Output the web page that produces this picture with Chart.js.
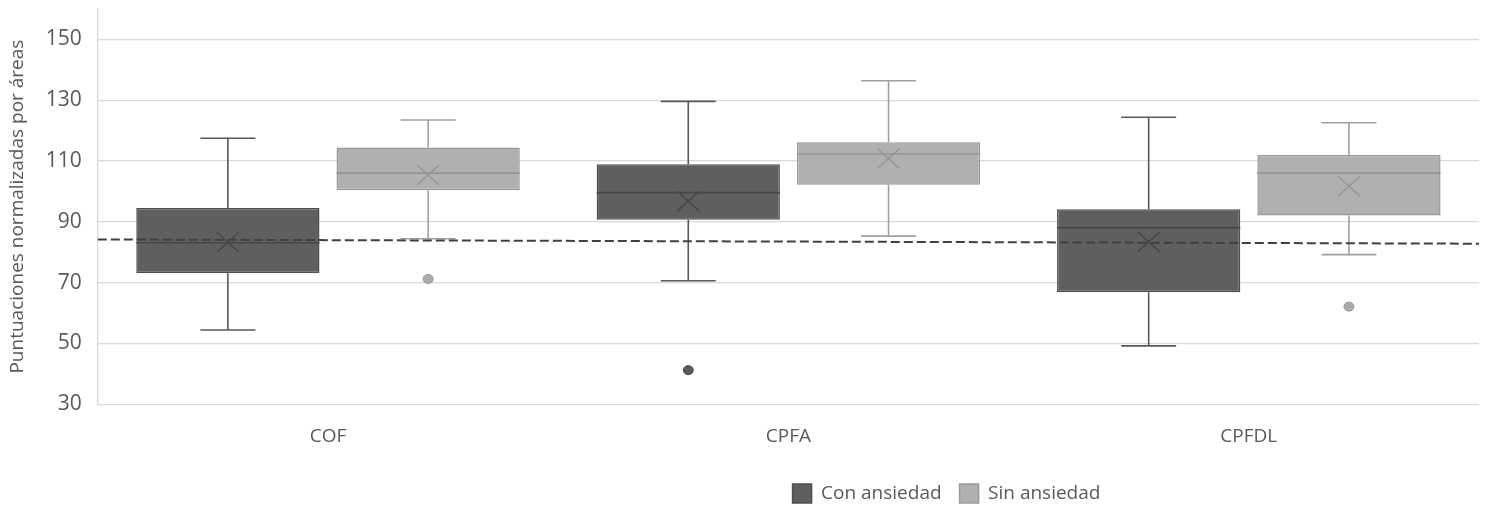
<!DOCTYPE html>
<html>
<head>
<meta charset="utf-8">
<script src="https://cdn.jsdelivr.net/npm/chart.js@4.4.1/dist/chart.umd.min.js"></script>
<style>
  html, body { margin: 0; padding: 0; background: #fff; }
  #wrap { width: 1486px; height: 506px; }
</style>
</head>
<body>
<div id="wrap"><canvas id="boxChart"></canvas></div>
<script>
// Categories and the two groups
const categories = ['COF', 'CPFA', 'CPFDL'];
const seriesNames = ['Con ansiedad', 'Sin ansiedad'];

// Con ansiedad
const conMin = [54.4, 70.6, 49.2];
const conQ1 = [73.1, 90.7, 66.8];
const conMedian = [83.1, 99.6, 88.1];
const conMean = [83.3, 96.8, 83.4];
const conQ3 = [94.5, 108.9, 94.1];
const conMax = [117.5, 129.6, 124.4];
const conOutliers = [[], [41.2], []];

// Sin ansiedad
const sinMin = [84.4, 85.3, 79.2];
const sinQ1 = [100.4, 102.2, 92.1];
const sinMedian = [106, 112.3, 106];
const sinMean = [105.4, 110.8, 101.7];
const sinQ3 = [114.4, 116.2, 112];
const sinMax = [123.5, 136.4, 122.6];
const sinOutliers = [[71.2], [], [62.1]];

// dashed reference line: value at the left and right end of the plot
const refLine = [84.2, 82.8];

const yTicks = [30, 50, 70, 90, 110, 130, 150];

const textColor = '#595959';
const gridColor = '#d9d9d9';

function boxStats(min, q1, med, mean, q3, max, out) {
    return { min: min, q1: q1, median: med, mean: mean, q3: q3, max: max, outliers: out };
}

// whiskers, medians, means, outliers and the dashed line
const boxDetails = {
    id: 'boxDetails',
    afterDatasetsDraw(chart) {
        const ctx = chart.ctx;
        const y = chart.scales.y;
        chart.data.datasets.forEach((ds, i) => {
            const meta = chart.getDatasetMeta(i);
            const s = ds.stats;
            meta.data.forEach((bar, j) => {
                const x = bar.x;
                const half = bar.width / 2;
                const cap = bar.width * 0.15;
                const pMin = y.getPixelForValue(s.min[j]);
                const pQ1 = y.getPixelForValue(s.q1[j]);
                const pMed = y.getPixelForValue(s.median[j]);
                const pMean = y.getPixelForValue(s.mean[j]);
                const pQ3 = y.getPixelForValue(s.q3[j]);
                const pMax = y.getPixelForValue(s.max[j]);
                ctx.save();
                ctx.lineWidth = 1.6;
                ctx.strokeStyle = ds.whiskerColor;
                ctx.beginPath();
                ctx.moveTo(x, pQ3); ctx.lineTo(x, pMax);
                ctx.moveTo(x - cap, pMax); ctx.lineTo(x + cap, pMax);
                ctx.moveTo(x, pQ1); ctx.lineTo(x, pMin);
                ctx.moveTo(x - cap, pMin); ctx.lineTo(x + cap, pMin);
                ctx.stroke();
                // median
                ctx.strokeStyle = ds.medianColor;
                ctx.beginPath();
                ctx.moveTo(x - half, pMed); ctx.lineTo(x + half, pMed);
                ctx.stroke();
                // mean cross
                ctx.lineWidth = 1.4;
                ctx.beginPath();
                ctx.moveTo(x - 11, pMean - 10); ctx.lineTo(x + 11, pMean + 10);
                ctx.moveTo(x - 11, pMean + 10); ctx.lineTo(x + 11, pMean - 10);
                ctx.stroke();
                // outliers
                ctx.fillStyle = ds.outlierColor;
                ctx.strokeStyle = ds.medianColor;
                ctx.lineWidth = 1;
                s.outliers[j].forEach(v => {
                    ctx.beginPath();
                    ctx.ellipse(x, y.getPixelForValue(v), 5, 4.5, 0, 0, Math.PI * 2);
                    ctx.fill();
                    ctx.stroke();
                });
                ctx.restore();
            });
        });
        const area = chart.chartArea;
        ctx.save();
        ctx.strokeStyle = '#404040';
        ctx.lineWidth = 2;
        ctx.setLineDash([9, 4]);
        ctx.beginPath();
        ctx.moveTo(area.left, y.getPixelForValue(refLine[0]));
        ctx.lineTo(area.right, y.getPixelForValue(refLine[1]));
        ctx.stroke();
        ctx.restore();
    }
};

// the legend sits right of centre in the original
const legendShift = {
    id: 'legendShift',
    afterLayout(chart) {
        const lg = chart.legend;
        lg.left += 207; lg.right += 207;
        lg.top += 18; lg.bottom += 18;
        lg.adjustHitBoxes();
    }
};

const ctx = document.getElementById('boxChart').getContext('2d');
const chart = new Chart(ctx, {
    type: 'bar',
    data: {
        labels: categories,
        datasets: [
            {
                label: seriesNames[0],
                data: conQ1.map((v, i) => [v, conQ3[i]]),
                stats: boxStats(conMin, conQ1, conMedian, conMean, conQ3, conMax, conOutliers),
                backgroundColor: '#5f5f5f',
                borderColor: '#4f4f4f',
                borderWidth: 1.5,
                borderSkipped: false,
                whiskerColor: '#595959',
                medianColor: '#474747',
                outlierColor: '#595959'
            },
            {
                label: seriesNames[1],
                data: sinQ1.map((v, i) => [v, sinQ3[i]]),
                stats: boxStats(sinMin, sinQ1, sinMedian, sinMean, sinQ3, sinMax, sinOutliers),
                backgroundColor: '#b0b0b0',
                borderColor: '#999999',
                borderWidth: 1.5,
                borderSkipped: false,
                whiskerColor: '#a0a0a0',
                medianColor: '#959595',
                outlierColor: '#acacac'
            }
        ]
    },
    options: {
        responsive: true,
        maintainAspectRatio: false,
        animation: false,
        categoryPercentage: 0.87,
        barPercentage: 0.915,
        layout: { padding: { top: 9, right: 7, bottom: 11, left: 0 } },
        scales: {
            x: {
                grid: { display: false },
                border: { display: false },
                ticks: { color: textColor, font: { family: 'Open Sans', size: 19 }, padding: 13 },
                // tick padding is counted twice in the axis height; drop one
                afterFit: (scale) => { scale.height -= 13; }
            },
            y: {
                min: 30,
                max: 160,
                afterBuildTicks: (scale) => { scale.ticks = yTicks.map(v => ({ value: v })); },
                afterFit: (scale) => { scale.paddingTop = 0; scale.paddingBottom = 0; },
                grid: { color: gridColor, lineWidth: 1.3, drawTicks: false },
                border: { display: true, color: gridColor, width: 1.3 },
                ticks: { color: textColor, font: { family: 'Open Sans', size: 21 }, padding: 16 },
                title: {
                    display: true,
                    text: 'Puntuaciones normalizadas por áreas',
                    color: textColor,
                    font: { family: 'Open Sans', size: 19 },
                    padding: { top: 6, bottom: 1 }
                }
            }
        },
        plugins: {
            tooltip: { enabled: false },
            legend: {
                position: 'bottom',
                labels: {
                    color: textColor,
                    font: { family: 'Open Sans', size: 19 },
                    boxWidth: 19,
                    boxHeight: 19,
                    padding: 18
                }
            }
        }
    },
    plugins: [boxDetails, legendShift]
});
</script>
</body>
</html>
